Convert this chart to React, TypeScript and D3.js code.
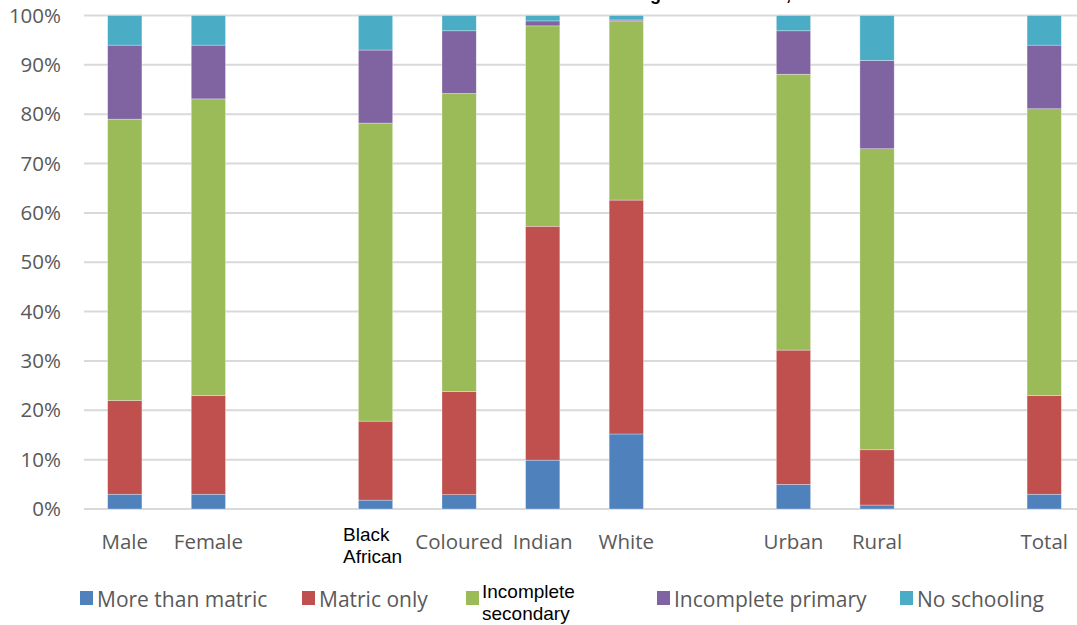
import React from "react";
import * as d3 from "d3";

const categories = ["Male", "Female", "gap1", "Black African", "Coloured", "Indian", "White", "gap2", "Urban", "Rural", "gap3", "Total"];
const seriesNames = ["More than matric", "Matric only", "Incomplete secondary", "Incomplete primary", "No schooling"];
const seriesColors = ["#4F81BD", "#C0504D", "#9BBB59", "#8064A2", "#4BACC6"];

const moreThanMatric = [3.0, 3.0, 0, 1.8, 2.9, 9.9, 15.2, 0, 5.0, 0.8, 0, 3.0];
const matricOnly = [19.0, 20.0, 0, 16.0, 20.9, 47.4, 47.4, 0, 27.2, 11.2, 0, 20.0];
const incompleteSecondary = [57.0, 60.1, 0, 60.4, 60.4, 40.6, 36.3, 0, 55.9, 61.0, 0, 58.1];
const incompletePrimary = [15.0, 10.9, 0, 14.8, 12.7, 1.0, 0.2, 0, 8.8, 17.9, 0, 12.9];
const noSchooling = [6.0, 6.0, 0, 7.0, 3.1, 1.1, 0.9, 0, 3.1, 9.1, 0, 6.0];

const yTicks = [0, 10, 20, 30, 40, 50, 60, 70, 80, 90, 100];

const W = 1077;
const H = 625;
const left = 83;
const right = 1086;
const top = 15.5;
const bottom = 509;

export default function App() {
  const keys = seriesNames;
  const rows = categories.map((c, i) => ({
    cat: c,
    [keys[0]]: moreThanMatric[i],
    [keys[1]]: matricOnly[i],
    [keys[2]]: incompleteSecondary[i],
    [keys[3]]: incompletePrimary[i],
    [keys[4]]: noSchooling[i],
  }));
  const x = d3.scaleBand<string>().domain(categories).range([left, right]).paddingInner(0.59).paddingOuter(0.295);
  const y = d3.scaleLinear().domain([0, 100]).range([bottom, top]);
  const stack = d3.stack<any>().keys(keys);
  const stacked = stack(rows);

  const labelFont = "'Open Sans', sans-serif";
  const smallFont = "'Liberation Sans', Arial, sans-serif";

  const legendItems = [
    { name: "More than matric", x: 80 },
    { name: "Matric only", x: 302 },
    { name: "Incomplete secondary", x: 466 },
    { name: "Incomplete primary", x: 657 },
    { name: "No schooling", x: 900 },
  ];

  return (
    <svg width={W} height={H} style={{ position: "absolute", left: 0, top: 0, background: "#fff" }}>
      {/* title, mostly above the visible area (only descenders show) */}
      <text x={650} y={0} textAnchor="end" fontFamily={smallFont} fontWeight="bold" fontSize={18} fill="#000">
        Educational attainment of adults a
      </text>
      <text x={650} y={0} textAnchor="start" fontFamily={smallFont} fontWeight="bold" fontSize={18} fill="#000">
        ged 20 and over, 2016
      </text>

      {yTicks.map((t) => (
        <g key={t}>
          <line x1={left + 1} x2={right} y1={y(t)} y2={y(t)} stroke="#D9D9D9" strokeWidth={2} />
          <text x={61} y={y(t)} dy="0.35em" textAnchor="end" fontFamily={labelFont} fontSize={20.5} fill="#595959">
            {t}%
          </text>
        </g>
      ))}

      {stacked.map((s, si) => (
        <g key={s.key} fill={seriesColors[si]}>
          {s.map((d, i) => {
            const cat = categories[i];
            if (cat.startsWith("gap")) return null;
            const y0 = y(d[0]);
            const y1 = y(d[1]);
            return (
              <rect
                key={cat}
                x={x(cat)}
                width={x.bandwidth()}
                y={y1}
                height={Math.max(0, y0 - y1)}
                stroke="#ffffff"
                strokeOpacity={0.5}
                strokeWidth={0.6}
              />
            );
          })}
        </g>
      ))}

      {categories.map((c) => {
        if (c.startsWith("gap")) return null;
        const cx = (x(c) as number) + x.bandwidth() / 2;
        if (c === "Black African") {
          return (
            <text key={c} fontFamily={smallFont} fontSize={19} fill="#000">
              <tspan x={343} y={541}>Black</tspan>
              <tspan x={343} y={563}>African</tspan>
            </text>
          );
        }
        return (
          <text key={c} x={cx} y={549} textAnchor="middle" fontFamily={labelFont} fontSize={20.5} fill="#595959">
            {c}
          </text>
        );
      })}

      {legendItems.map((l, i) => (
        <g key={l.name}>
          <rect x={l.x} y={591} width={13} height={14} fill={seriesColors[i]} />
          {l.name === "Incomplete secondary" ? (
            <text fontFamily={smallFont} fontSize={19} fill="#000">
              <tspan x={l.x + 16} y={598}>Incomplete</tspan>
              <tspan x={l.x + 16} y={620}>secondary</tspan>
            </text>
          ) : (
            <text x={l.x + 17} y={607} fontFamily={labelFont} fontSize={21} fill="#595959">
              {l.name}
            </text>
          )}
        </g>
      ))}
    </svg>
  );
}
